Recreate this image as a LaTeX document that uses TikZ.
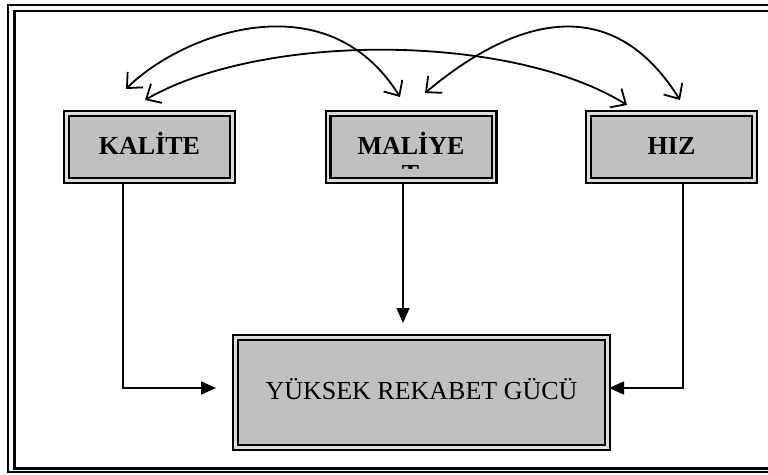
\documentclass[tikz,border=0pt]{standalone}
\usepackage{fontspec}
\setmainfont{Liberation Serif}
\usetikzlibrary{arrows.meta}
\definecolor{boxfill}{HTML}{C0C0C0}
\definecolor{gapfill}{HTML}{DCDCDC}
\begin{document}
\begin{tikzpicture}[x=1pt,y=-1pt,
  dbox/.style={draw=black, line width=2.3pt, double=gapfill, double distance=2.4pt,
    fill=boxfill, inner sep=0pt, text height=17pt, text depth=3pt},
  topbox/.style={dbox, minimum width=166pt, minimum height=67pt,
    font=\fontsize{26}{30}\selectfont\bfseries},
  conn/.style={line width=1.6pt, -{Triangle[length=15pt,width=13pt]}},
  swing/.style={line width=1.8pt,
    {Straight Barb[length=12pt,width=22pt]}-{Straight Barb[length=12pt,width=22pt]}}
]
\useasboundingbox (0,0) rectangle (768,474);
\clip (0,0) rectangle (768,474);
\fill[white] (0,0) rectangle (768,474);

% outer frame (open at the right, as in the reference)
\draw[line width=1.5pt] (800,5) -- (8,5) -- (8,472) -- (800,472);
\draw[line width=2.7pt] (800,11) -- (14.5,11) -- (14.5,468.5) -- (800,468.5);

% boxes
\node[topbox] (kal) at (149.5,147) {KALİTE};
\node[topbox] (mal) at (411,147) {MALİYE};
\node[topbox] (hiz) at (671.5,147) {HIZ};
\node[dbox, minimum width=372pt, minimum height=110pt,
  font=\fontsize{26}{30}\selectfont] (yrg) at (421.5,392.5) {YÜKSEK REKABET GÜCÜ};

% clipped second line of MALİYET
\begin{scope}
  \clip (330,158) rectangle (490,168.5);
  \node[font=\fontsize{26}{30}\selectfont\bfseries, anchor=base, inner sep=0pt]
    (malt) at (410.5,182) {T};
\end{scope}

% connectors to the bottom box
\coordinate (lt) at (216,388);
\coordinate (rt) at (609,388);
\coordinate (mt) at (403,323);
\draw[conn] ([xshift=-26.5pt]kal.south) |- (lt);
\draw[conn] ([xshift=11.5pt]hiz.south) |- (rt);
\draw[conn] ([xshift=-8pt]mal.south) -- (mt);

% curved two-way arrows
\coordinate (a1) at (126,89);  \coordinate (a2) at (400,97);
\coordinate (b1) at (145,100); \coordinate (b2) at (627,105);
\coordinate (c1) at (425,93);  \coordinate (c2) at (680,100);
\draw[swing] (a1) .. controls (180,35) and (326,-22) .. (a2);
\draw[swing] (b1) .. controls (262,32.5) and (510,32.5) .. (b2);
\draw[swing] (c1) .. controls (500,30) and (605,-20) .. (c2);
\end{tikzpicture}
\end{document}
